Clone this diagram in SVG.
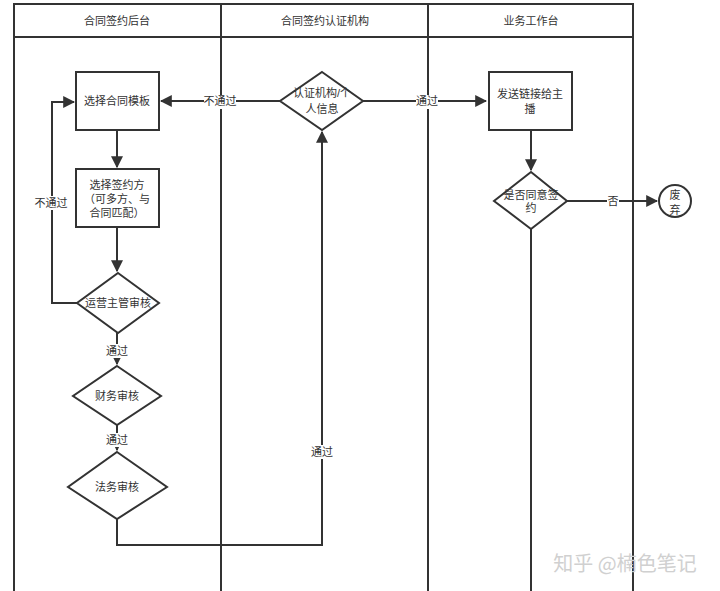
<svg xmlns="http://www.w3.org/2000/svg" width="720" height="591" viewBox="0 0 720 591">
<defs>
<style>
.ln{fill:none;stroke:#333;stroke-width:2}
.nd{fill:#fff;stroke:#333;stroke-width:2}
.t{font-family:"Liberation Sans","Noto Sans CJK SC",sans-serif;font-size:11px;fill:#333;text-anchor:middle;dominant-baseline:central}
.lb{fill:#fff}
</style>
<marker id="ah" viewBox="0 0 10 10" refX="9" refY="5" markerWidth="6" markerHeight="6" orient="auto" markerUnits="strokeWidth">
<path d="M0,0 L10,5 L0,10 z" fill="#333"/>
</marker>
</defs>
<rect width="720" height="591" fill="#fff"/>
<g id="lanes">
<path class="ln" d="M14,600 V4 H633 V600 M14,37 H633 M221,4 V600 M428,4 V600"/>
<text class="t" x="117" y="21">合同签约后台</text>
<text class="t" x="325" y="21">合同签约认证机构</text>
<text class="t" x="531" y="21">业务工作台</text>
</g>
<g id="connectors">
<path class="ln" d="M117,130 V167" marker-end="url(#ah)"/>
<path class="ln" d="M117,227 V271" marker-end="url(#ah)"/>
<path class="ln" d="M77,303 H52 V102 H74" marker-end="url(#ah)"/>
<path class="ln" d="M117,333 V364" marker-end="url(#ah)"/>
<path class="ln" d="M117,425 V450" marker-end="url(#ah)"/>
<path class="ln" d="M117,519 V545 H322 V132" marker-end="url(#ah)"/>
<path class="ln" d="M280,101 H161" marker-end="url(#ah)"/>
<path class="ln" d="M363,101 H486" marker-end="url(#ah)"/>
<path class="ln" d="M531,130 V170" marker-end="url(#ah)"/>
<path class="ln" d="M567,201 H657" marker-end="url(#ah)"/>
<path class="ln" d="M531,229 V600"/>
<rect class="lb" x="36" y="196" width="32" height="14"/>
<text class="t" x="51" y="203">不通过</text>
<rect class="lb" x="204" y="95" width="32" height="14"/>
<text class="t" x="220" y="101">不通过</text>
<rect class="lb" x="416" y="95" width="22" height="14"/>
<text class="t" x="427" y="101">通过</text>
<rect class="lb" x="106" y="344" width="22" height="14"/>
<text class="t" x="117" y="351">通过</text>
<rect class="lb" x="106" y="433" width="22" height="14"/>
<text class="t" x="117" y="440">通过</text>
<rect class="lb" x="311" y="445" width="22" height="14"/>
<text class="t" x="322" y="452">通过</text>
<rect class="lb" x="607" y="194" width="12" height="14"/>
<text class="t" x="613" y="201">否</text>
</g>
<g id="n1"><rect class="nd" x="76" y="72" width="83" height="58"/><text class="t" x="117" y="101">选择合同模板</text></g>
<g id="n2"><rect class="nd" x="76" y="169" width="83" height="58"/>
<text class="t" x="117" y="185">选择签约方</text><text class="t" x="117" y="199">（可多方、与</text><text class="t" x="117" y="213">合同匹配）</text></g>
<g id="n3"><polygon class="nd" points="118,273 159,303 118,333 77,303"/><text class="t" x="118" y="303">运营主管审核</text></g>
<g id="n4"><polygon class="nd" points="117,366 161,396 117,425 73,396"/><text class="t" x="117" y="396">财务审核</text></g>
<g id="n5"><polygon class="nd" points="117,452 167,487 117,519 68,487"/><text class="t" x="117" y="487">法务审核</text></g>
<g id="n6"><polygon class="nd" points="322,72 363,101 322,130 280,101"/>
<text class="t" x="322" y="93">认证机构/个</text><text class="t" x="322" y="109">人信息</text></g>
<g id="n7"><rect class="nd" x="489" y="72" width="83" height="58"/>
<text class="t" x="530" y="94">发送链接给主</text><text class="t" x="530" y="109">播</text></g>
<g id="n8"><polygon class="nd" points="531,172 567,201 531,229 494,201"/>
<text class="t" x="531" y="195">是否同意签</text><text class="t" x="531" y="208">约</text></g>
<g id="n9"><circle class="nd" cx="675" cy="201" r="16"/>
<text class="t" x="675" y="195">废</text><text class="t" x="675" y="210">弃</text></g>
<text x="625" y="562" style="font-family:'Noto Sans CJK SC',sans-serif;font-size:20px;fill:#d0d0d0;text-anchor:middle;dominant-baseline:central">知乎 @楠色笔记</text>
</svg>
